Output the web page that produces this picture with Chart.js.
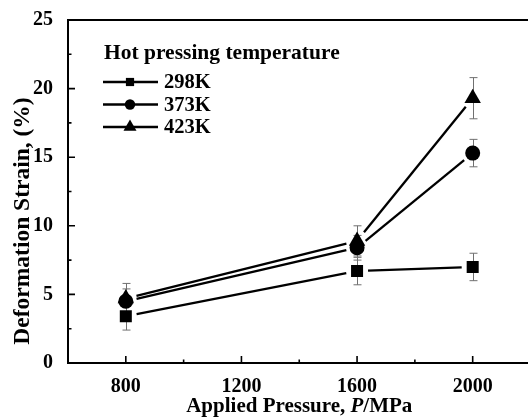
<!DOCTYPE html>
<html>
<head>
<meta charset="utf-8">
<script src="https://cdn.jsdelivr.net/npm/chart.js@4"></script>
<style>
    html, body { margin: 0; padding: 0; overflow: hidden; background: #fff; }
    #grafica { display: block; }
</style>
</head>
<body>
<canvas id="grafica" width="540" height="420"></canvas>
<script>
// datos
const presion = [800, 1600, 2000];
const ticksX = [800, 1200, 1600, 2000];
const menoresX = [600, 1000, 1400, 1800, 2200];
const ticksY = [0, 5, 10, 15, 20, 25];
const menoresY = [2.5, 7.5, 12.5, 17.5, 22.5];
const temperaturas = ['298K', '373K', '423K'];
const deformacion298 = [3.4, 6.7, 7.0];
const error298 = [1.0, 1.0, 1.0];
const deformacion373 = [4.5, 8.4, 15.3];
const error373 = [0.9, 0.9, 1.0];
const deformacion423 = [4.7, 8.9, 19.3];
const error423 = [1.1, 1.1, 1.5];

const FUENTE = "'Liberation Serif', 'Times New Roman', serif";
const estilos = ['rect', 'circle', 'triangle'];
const radios = [8.5, 7.5, 9.5];
const radiosLeyenda = [5.8, 5.2, 7.5];

const serie = (valores) => valores.map((v, i) => ({ x: presion[i], y: v }));

/**
 * Plugin para barras de error, lineas con hueco, marco, ejes y leyenda
 */
const decoracion = {
    id: 'decoracion',
    beforeDatasetsDraw(chart) {
        const { ctx, scales: { x, y } } = chart;
        chart.data.datasets.forEach((ds, i) => {
            const meta = chart.getDatasetMeta(i);
            ctx.save();
            // barras de error
            ctx.strokeStyle = '#707070';
            ctx.lineWidth = 1;
            ds.errores.forEach((e, j) => {
                const px = Math.round(x.getPixelForValue(ds.data[j].x)) + 0.5;
                const arriba = y.getPixelForValue(ds.data[j].y + e);
                const abajo = y.getPixelForValue(ds.data[j].y - e);
                ctx.beginPath();
                ctx.moveTo(px, arriba); ctx.lineTo(px, abajo);
                ctx.moveTo(px - 4, arriba); ctx.lineTo(px + 4, arriba);
                ctx.moveTo(px - 4, abajo); ctx.lineTo(px + 4, abajo);
                ctx.stroke();
            });
            // lineas entre puntos con hueco
            ctx.strokeStyle = '#000';
            ctx.lineWidth = 2.3;
            for (let j = 0; j < meta.data.length - 1; j++) {
                const a = meta.data[j], b = meta.data[j + 1];
                const dx = b.x - a.x, dy = b.y - a.y;
                const len = Math.hypot(dx, dy);
                const ux = dx / len, uy = dy / len;
                const hueco = 11;
                ctx.beginPath();
                ctx.moveTo(a.x + ux * hueco, a.y + uy * hueco);
                ctx.lineTo(b.x - ux * hueco, b.y - uy * hueco);
                ctx.stroke();
            }
            ctx.restore();
        });
    },
    afterDraw(chart) {
        const { ctx, chartArea: area, scales: { x, y } } = chart;
        ctx.save();
        // marco
        ctx.strokeStyle = '#000';
        ctx.lineWidth = 2;
        ctx.strokeRect(area.left, area.top, area.right - area.left, area.bottom - area.top);
        // marcas hacia dentro
        ctx.lineWidth = 1.6;
        ctx.beginPath();
        ticksX.forEach(v => {
            const px = x.getPixelForValue(v);
            ctx.moveTo(px, area.bottom); ctx.lineTo(px, area.bottom - 7);
        });
        menoresX.forEach(v => {
            const px = x.getPixelForValue(v);
            ctx.moveTo(px, area.bottom); ctx.lineTo(px, area.bottom - 3.5);
        });
        ticksY.forEach(v => {
            const py = y.getPixelForValue(v);
            ctx.moveTo(area.left, py); ctx.lineTo(area.left + 7, py);
        });
        menoresY.forEach(v => {
            const py = y.getPixelForValue(v);
            ctx.moveTo(area.left, py); ctx.lineTo(area.left + 3.5, py);
        });
        ctx.stroke();

        // titulo del eje x con P en cursiva
        ctx.fillStyle = '#000';
        ctx.textBaseline = 'middle';
        ctx.textAlign = 'left';
        const partes = [
            ['Applied Pressure, ', 'bold 21px ' + FUENTE],
            ['P', 'italic bold 21px ' + FUENTE],
            ['/MPa', 'bold 21px ' + FUENTE]
        ];
        let total = 0;
        partes.forEach(p => { ctx.font = p[1]; total += ctx.measureText(p[0]).width; });
        let cx = (area.left + area.right) / 2 - total / 2;
        partes.forEach(p => {
            ctx.font = p[1];
            ctx.fillText(p[0], cx, 407);
            cx += ctx.measureText(p[0]).width;
        });

        // titulo del eje y
        ctx.save();
        ctx.translate(23, 221);
        ctx.rotate(-Math.PI / 2);
        ctx.textAlign = 'center';
        ctx.font = 'bold 23.5px ' + FUENTE;
        ctx.fillText('Deformation Strain, (%)', 0, 0);
        ctx.restore();

        // leyenda
        ctx.font = 'bold 21.5px ' + FUENTE;
        ctx.fillText('Hot pressing temperature', 104, 53);
        ctx.font = 'bold 20.5px ' + FUENTE;
        const filas = [82, 104.5, 127];
        temperaturas.forEach((t, i) => {
            const fy = filas[i];
            ctx.strokeStyle = '#000';
            ctx.lineWidth = 2.3;
            ctx.beginPath();
            ctx.moveTo(103, fy); ctx.lineTo(158, fy);
            ctx.stroke();
            ctx.fillStyle = '#000';
            Chart.helpers.drawPoint(ctx, {
                pointStyle: estilos[i], radius: radiosLeyenda[i], borderWidth: 0, rotation: 0
            }, 130, fy);
            ctx.fillText(t, 164, fy + 1);
        });
        ctx.restore();
    }
};

const datasets = [deformacion298, deformacion373, deformacion423].map((valores, i) => ({
    label: temperaturas[i],
    data: serie(valores),
    errores: [error298, error373, error423][i],
    showLine: false,
    pointStyle: estilos[i],
    pointRadius: radios[i],
    pointHoverRadius: radios[i],
    pointBackgroundColor: '#000',
    pointBorderWidth: 0,
    borderColor: '#000'
}));

const grafica = new Chart(document.getElementById('grafica').getContext('2d'), {
    type: 'scatter',
    data: { datasets: datasets },
    options: {
        responsive: false,
        animation: false,
        events: [],
        layout: { padding: { top: 20, right: 7, left: 0, bottom: 0 } },
        plugins: {
            legend: { display: false },
            tooltip: { enabled: false }
        },
        scales: {
            x: {
                type: 'linear',
                min: 600,
                max: 2200,
                grid: { display: false },
                border: { display: false },
                afterBuildTicks: (scale) => { scale.ticks = ticksX.map(v => ({ value: v })); },
                afterFit: (scale) => { scale.height = 57; },
                ticks: {
                    padding: 4,
                    color: '#000',
                    callback: (v) => String(v),
                    font: { family: FUENTE, size: 20, weight: 'bold' }
                }
            },
            y: {
                min: 0,
                max: 25,
                grid: { display: false },
                border: { display: false },
                afterBuildTicks: (scale) => { scale.ticks = ticksY.map(v => ({ value: v })); },
                afterFit: (scale) => { scale.width = 68; },
                ticks: {
                    padding: 7,
                    color: '#000',
                    callback: (v) => String(v),
                    font: { family: FUENTE, size: 20, weight: 'bold' }
                }
            }
        }
    },
    plugins: [decoracion]
});
</script>
</body>
</html>
